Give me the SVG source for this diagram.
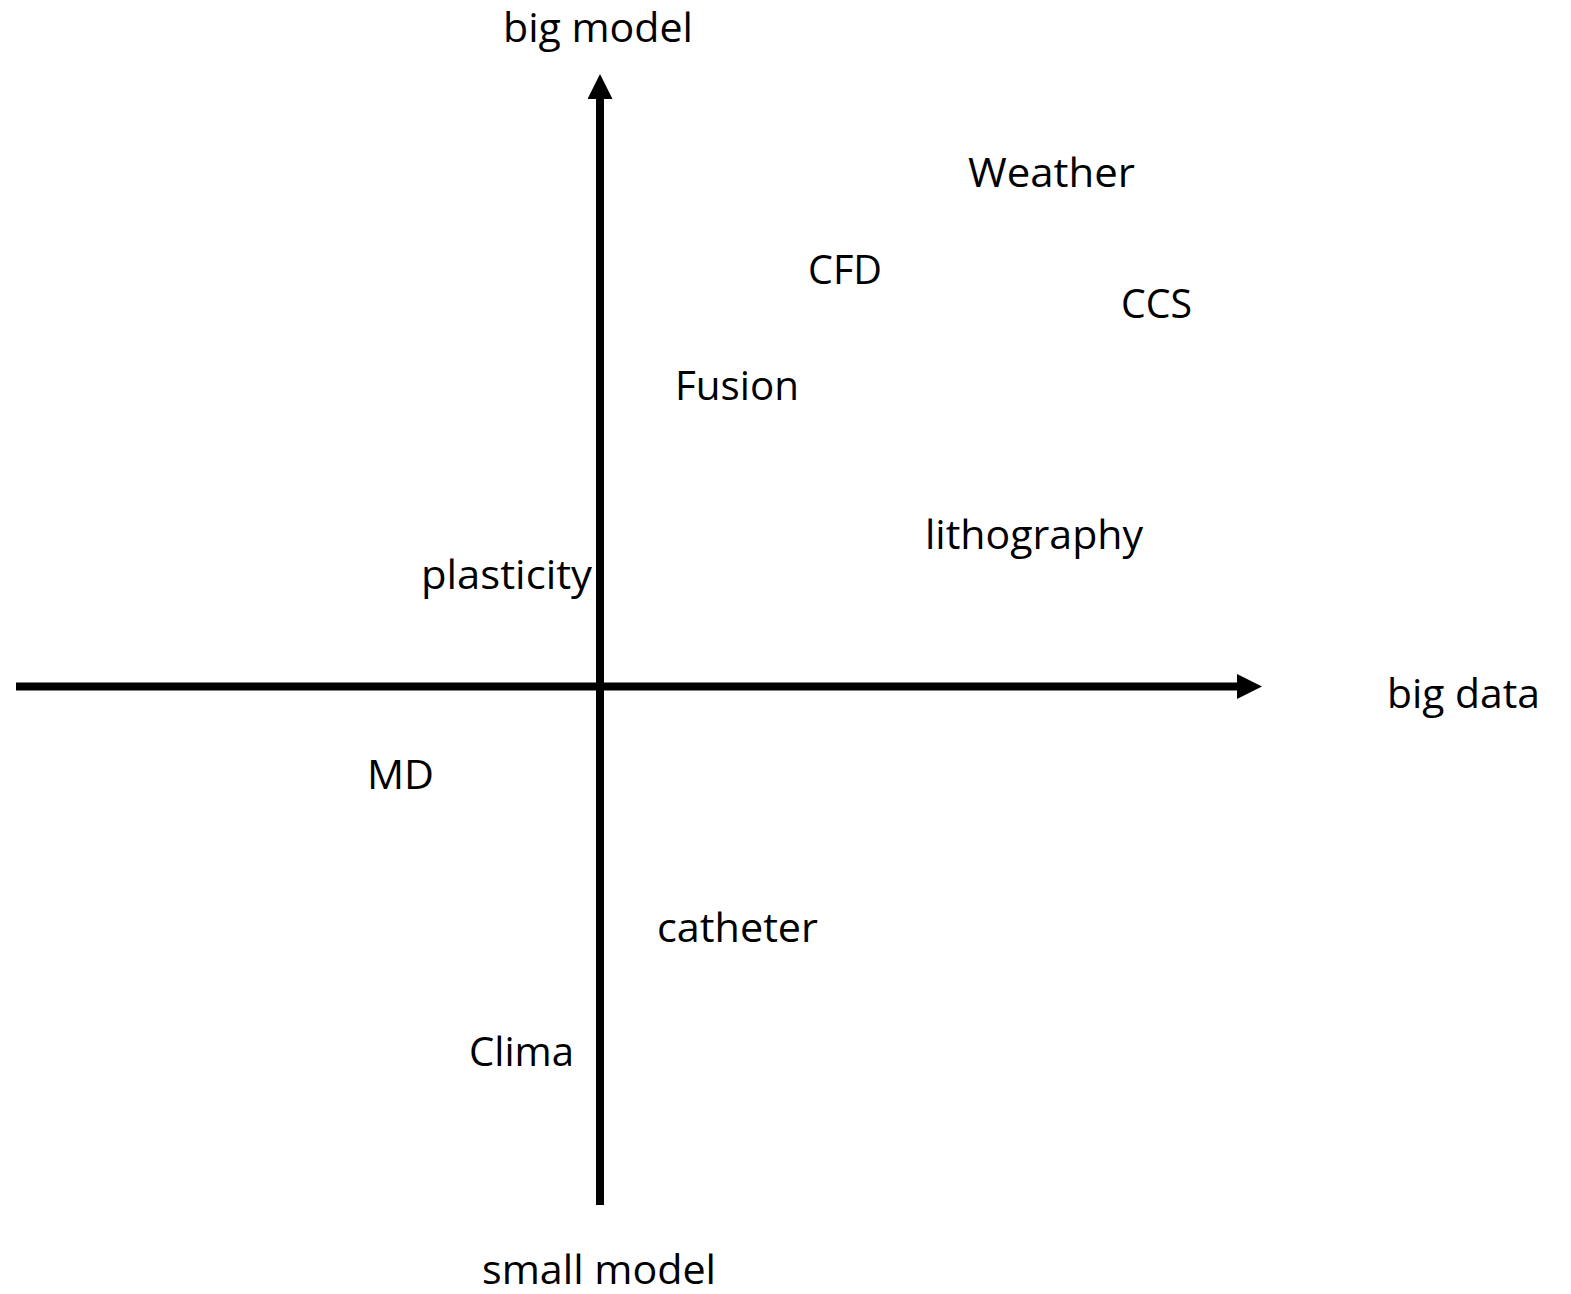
<svg xmlns="http://www.w3.org/2000/svg" width="1571" height="1294" viewBox="0 0 1571 1294">
<defs>
<style>
text { font-family: "Open Sans", "Liberation Sans", sans-serif; font-size: 40px; fill: #000; }
.axis { stroke: #000; stroke-width: 8; fill: none; }
</style>
<marker id="arr" markerUnits="userSpaceOnUse" markerWidth="25" markerHeight="25" refX="0" refY="12.5" orient="auto" viewBox="0 0 25 25">
<path d="M0,0 L25,12.5 L0,25 Z" fill="#000"/>
</marker>
</defs>
<rect width="1571" height="1294" fill="#fff"/>
<g id="connectors">
<line class="axis" x1="600" y1="1205" x2="600" y2="99" marker-end="url(#arr)"/>
<line class="axis" x1="16" y1="686.5" x2="1237" y2="686.5" marker-end="url(#arr)"/>
</g>
<g id="label-big-model"><text x="503" y="42" textLength="190" lengthAdjust="spacingAndGlyphs">big model</text></g>
<g id="label-small-model"><text x="482" y="1284" textLength="234" lengthAdjust="spacingAndGlyphs">small model</text></g>
<g id="label-big-data"><text x="1387" y="708" textLength="153" lengthAdjust="spacingAndGlyphs">big data</text></g>
<g id="node-weather"><text x="968" y="187" textLength="167" lengthAdjust="spacingAndGlyphs">Weather</text></g>
<g id="node-cfd"><text x="808" y="284" textLength="74" lengthAdjust="spacingAndGlyphs">CFD</text></g>
<g id="node-ccs"><text x="1121" y="318" textLength="71" lengthAdjust="spacingAndGlyphs">CCS</text></g>
<g id="node-fusion"><text x="675" y="400" textLength="124" lengthAdjust="spacingAndGlyphs">Fusion</text></g>
<g id="node-lithography"><text x="925" y="549" textLength="218" lengthAdjust="spacingAndGlyphs">lithography</text></g>
<g id="node-plasticity"><text x="421" y="589" textLength="171" lengthAdjust="spacingAndGlyphs">plasticity</text></g>
<g id="node-md"><text x="367" y="789" textLength="67" lengthAdjust="spacingAndGlyphs">MD</text></g>
<g id="node-catheter"><text x="657" y="942" textLength="161" lengthAdjust="spacingAndGlyphs">catheter</text></g>
<g id="node-clima"><text x="469" y="1066" textLength="105" lengthAdjust="spacingAndGlyphs">Clima</text></g>
</svg>
